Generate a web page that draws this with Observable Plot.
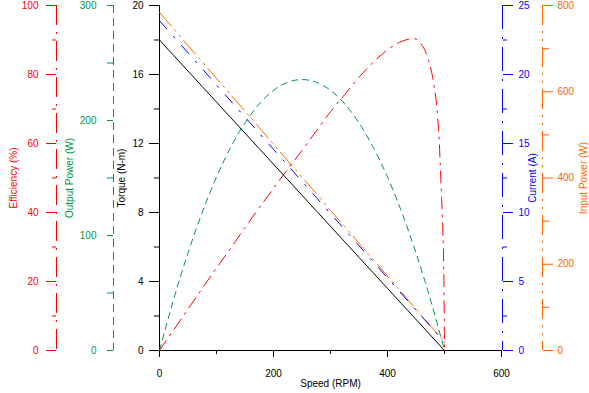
<!DOCTYPE html>
<html><head><meta charset="utf-8">
<script src="https://cdn.jsdelivr.net/npm/d3@7"></script>
<script src="https://cdn.jsdelivr.net/npm/@observablehq/plot@0.6"></script>
<style>
html,body{margin:0;padding:0;background:#fff}
#chart svg{display:block}
</style>
</head><body><div id="chart"></div>
<script>
// Speed grid (RPM)
const speed = [0,25,50,75,100,125,150,175,200,225,250,275,300,325,350,375,400,425,450,475,500];
// Torque (N-m)
const torque = [18,17.1,16.2,15.3,14.4,13.5,12.6,11.7,10.8,9.9,9,8.1,7.2,6.3,5.4,4.5,3.6,2.7,1.8,0.9,0];
// Current (A)
const current = [23.9,22.74,21.57,20.41,19.24,18.08,16.91,15.75,14.58,13.42,12.25,11.09,9.92,8.76,7.59,6.43,5.26,4.1,2.93,1.77,0.6];
// Output power (W)
const outputPower = [0,44.8,84.8,120.2,150.8,176.7,197.9,214.4,226.2,233.3,235.6,233.3,226.2,214.4,197.9,176.7,150.8,120.2,84.8,44.8,0];
// Input power (W)
const inputPower = [784,746,707,669,631,593,555,517,478,440,402,364,325,287,249,211,173,134,96,58,20];
// Efficiency (%) on its own speed grid
const effSpeed = [0,25,50,75,100,125,150,175,200,225,250,275,300,325,350,375,400,425,446,458,467,472,477,481,485,488,491,493,495,497,499,500];
const efficiency = [0,6,12,18,23.9,29.7,35.6,41.4,47,52.6,58,63.6,69.2,74.2,79.2,83.5,87.2,89.6,90.4,89,86.5,84,81,77.5,73,67.5,60,52,44,35,20,0];

// Axis tick labels
const speedTicks = [0,200,400,600], speedMinor = [100,300,500];
const torqueTicks = [0,4,8,12,16,20], torqueMinor = [2,6,10,14,18];
const effTicks = [0,20,40,60,80,100], effMinor = [10,30,50,70,90];
const outTicks = [0,100,200,300], outMinor = [50,150,250];
const curTicks = [0,5,10,15,20,25], curMinor = [2.5,7.5,12.5,17.5,22.5];
const inTicks = [0,200,400,600,800], inMinor = [100,300,500,700];

// Each secondary axis is mapped onto the torque scale (0–20)
const TMAX = 20;
const kEff = TMAX/100, kOut = TMAX/300, kCur = TMAX/25, kIn = TMAX/800;

const RED = "#ff0000", GREEN = "#00963c", BLUE = "#0000ff", ORANGE = "#ff6600";

const rows = speed.map((s,i)=>({speed:s, torque:torque[i], current:current[i], outputPower:outputPower[i], inputPower:inputPower[i]}));
const effRows = effSpeed.map((s,i)=>({speed:s, efficiency:efficiency[i]}));

const sideAxis = (ticks, minor, k, color, anchor, dx, major, minorSize, pad, dash) => [
  Plot.ruleX([anchor === "left" ? 0 : 600], {dx, stroke: color, strokeDasharray: dash}),
  Plot.axisY(ticks.map(v=>v*k), {anchor, dx, tickSize: major, tickPadding: pad, color, label: null, tickFormat: v => String(Math.round(v/k*10)/10)}),
  Plot.axisY(minor.map(v=>v*k), {anchor, dx, tickSize: minorSize, color, label: null, tickFormat: () => ""})
];

const chart = Plot.plot({
  width: 589,
  height: 393,
  marginLeft: 159,
  marginRight: 88,
  marginTop: 5,
  marginBottom: 43,
  style: {fontFamily: "'Liberation Sans', Arial, sans-serif", fontSize: "10px", background: "#fff"},
  x: {domain: [0,600]},
  y: {domain: [0,TMAX]},
  marks: [
    // x axis
    Plot.axisX(speedTicks, {tickSize: 7, tickPadding: 12, label: null, tickFormat: d => String(d)}),
    Plot.axisX(speedMinor, {tickSize: 4, label: null, tickFormat: () => ""}),
    Plot.ruleY([0], {stroke: "black"}),
    // torque axis
    Plot.ruleX([0], {stroke: "black"}),
    Plot.axisY(torqueTicks, {anchor: "left", tickSize: 10, tickPadding: 6, label: null, tickFormat: d => String(d)}),
    Plot.axisY(torqueMinor, {anchor: "left", tickSize: 5, label: null, tickFormat: () => ""}),
    // secondary axes
    ...sideAxis(effTicks, effMinor, kEff, RED, "left", -103, 10, 4, 8, "20,7,2,7"),
    ...sideAxis(outTicks, outMinor, kOut, GREEN, "left", -46, 6, 6, 11, "8,5"),
    ...sideAxis(curTicks, curMinor, kCur, BLUE, "right", 1, 10, 4, 6, "24,8,2,8"),
    ...sideAxis(inTicks, inMinor, kIn, ORANGE, "right", 41, 10, 6, 5, "20,6,2,6,2,6"),
    // axis titles
    Plot.text(["Efficiency (%)"], {frameAnchor: "left", dx: -146, rotate: -90, textAnchor: "middle", lineAnchor: "middle", fill: RED, text: d => d}),
    Plot.text(["Output Power (W)"], {frameAnchor: "left", dx: -90, rotate: -90, textAnchor: "middle", lineAnchor: "middle", fill: GREEN, text: d => d}),
    Plot.text(["Torque (N-m)"], {frameAnchor: "left", dx: -38, rotate: -90, textAnchor: "middle", lineAnchor: "middle", fill: "black", text: d => d}),
    Plot.text(["Current (A)"], {frameAnchor: "right", dx: 31, rotate: -90, textAnchor: "middle", lineAnchor: "middle", fill: BLUE, text: d => d}),
    Plot.text(["Input Power (W)"], {frameAnchor: "right", dx: 82, rotate: -90, textAnchor: "middle", lineAnchor: "middle", fill: ORANGE, text: d => d}),
    Plot.text(["Speed (RPM)"], {frameAnchor: "bottom", dy: 33, textAnchor: "middle", lineAnchor: "middle", fill: "black", text: d => d}),
    // curves
    Plot.line(rows, {x: "speed", y: d => d.inputPower*kIn, stroke: ORANGE, strokeWidth: 1, strokeDasharray: "18,5,2,5,2,5"}),
    Plot.line(rows, {x: "speed", y: d => d.current*kCur, stroke: BLUE, strokeWidth: 1, strokeDasharray: "11,10,2,10"}),
    Plot.line(rows, {x: "speed", y: d => d.outputPower*kOut, stroke: GREEN, strokeWidth: 1, strokeDasharray: "6,5", curve: "monotone-x"}),
    Plot.line(effRows, {x: "speed", y: d => d.efficiency*kEff, stroke: RED, strokeWidth: 1, strokeDasharray: "12,6,2,6", curve: "monotone-x"}),
    Plot.line(rows, {x: "speed", y: "torque", stroke: "black", strokeWidth: 1})
  ]
});
document.getElementById("chart").appendChild(chart);
</script>
</body></html>
